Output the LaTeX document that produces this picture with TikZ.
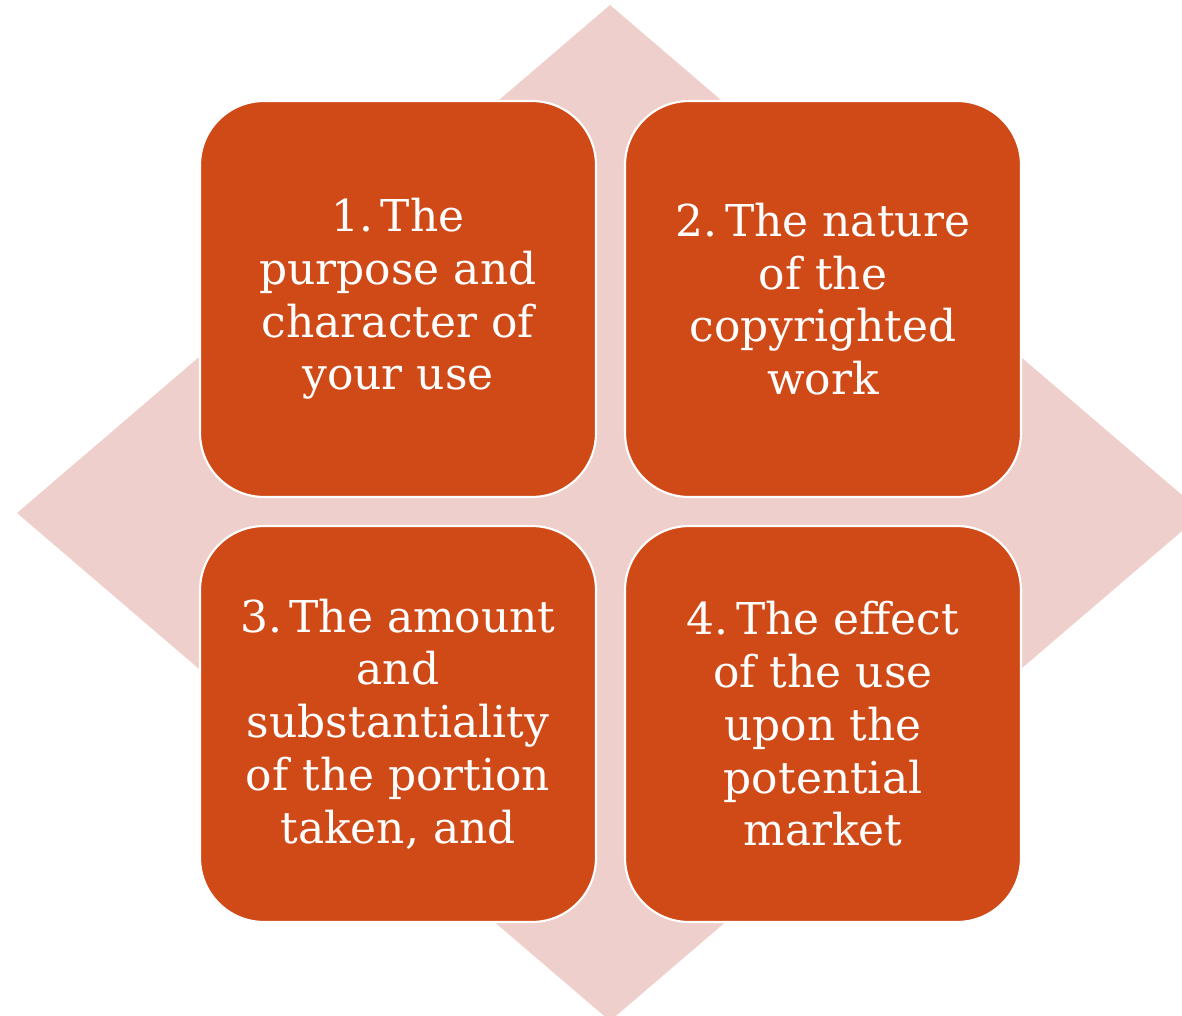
\documentclass[tikz,border=0pt]{standalone}
\usepackage{xcolor}
\usepackage{fontspec}
\usepackage{tikz}
\newfontfamily\factorfont{DejaVu Serif}
\definecolor{factorfill}{HTML}{D04A18}
\definecolor{diamondfill}{HTML}{EECFCB}

\begin{document}
\begin{tikzpicture}[x=0.02cm, y=-0.02cm,
        factor/.style={rectangle, rounded corners=1.28cm, fill=factorfill,
            draw=white, line width=1.2pt, minimum width=7.92cm, minimum height=7.92cm,
            text=white, align=center, inner sep=0pt,
            font=\factorfont\fontsize{25}{30}\selectfont}]
        \useasboundingbox (0,0) rectangle (1182,1016);
        \clip (0,0) rectangle (1182,1016);

        % Background diamond
        \fill[diamondfill] (610,5) -- (1203,513) -- (610,1021) -- (17,513) -- cycle;

        % Four factors
        \draw (398,299) node[factor] (f1) {1.\,The\\purpose and\\character of\\your use};
        \draw (823,299) node[factor] (f2) {2.\,The nature\\of the\\copyrighted\\work};
        \draw (398,724) node[factor] (f3) {3.\,The amount\\and\\substantiality\\of the portion\\taken, and};
        \draw (823,724) node[factor] (f4) {4.\,The effect\\of the use\\upon the\\potential\\market};
    \end{tikzpicture}
\end{document}
